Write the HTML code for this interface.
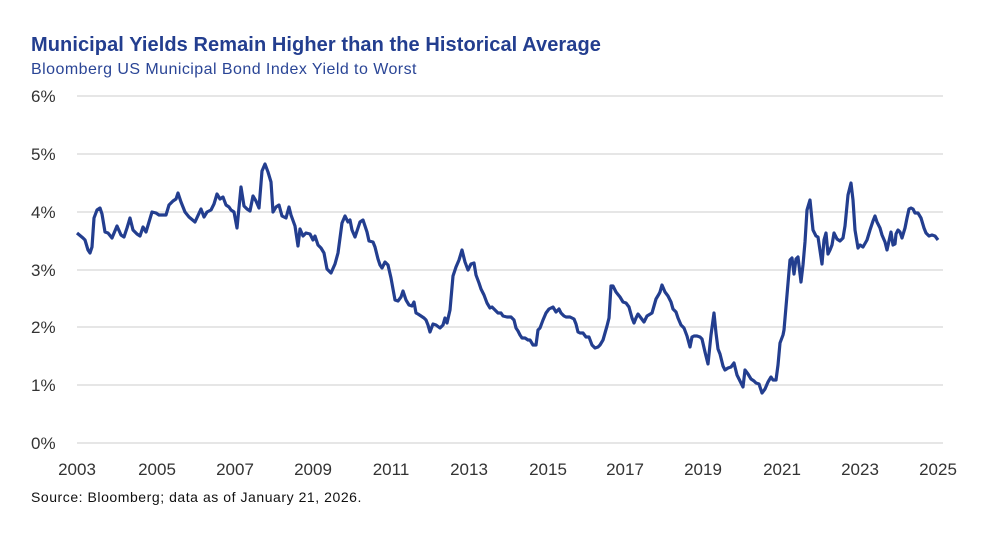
<!DOCTYPE html>
<html><head><style>
body{margin:0;background:#fff;font-family:"Liberation Sans",sans-serif;}
.w{position:relative;width:1002px;height:533px;overflow:hidden;}
.t{position:absolute;left:31px;top:34px;font-size:20px;font-weight:bold;color:#233e8f;letter-spacing:0.08px;}
.s{position:absolute;left:31px;top:61px;font-size:16px;color:#2a4596;letter-spacing:0.45px;}
.src{position:absolute;left:31px;top:489px;font-size:14px;color:#111;letter-spacing:0.55px;}
</style></head><body><div class="w">
<div class="t">Municipal Yields Remain Higher than the Historical Average</div>
<div class="s">Bloomberg US Municipal Bond Index Yield to Worst</div>
<svg width="1002" height="533" style="position:absolute;left:0;top:0">
<g stroke="#e6e6e6" stroke-width="2">
<line x1="77" x2="943" y1="96" y2="96"/><line x1="77" x2="943" y1="154" y2="154"/>
<line x1="77" x2="943" y1="212" y2="212"/><line x1="77" x2="943" y1="270" y2="270"/>
<line x1="77" x2="943" y1="327" y2="327"/><line x1="77" x2="943" y1="385" y2="385"/>
<line x1="77" x2="943" y1="443" y2="443"/></g>
<g font-size="17" fill="#333" font-family="Liberation Sans,sans-serif">
<text x="31" y="102">6%</text><text x="31" y="160">5%</text><text x="31" y="218">4%</text>
<text x="31" y="276">3%</text><text x="31" y="333">2%</text><text x="31" y="391">1%</text>
<text x="31" y="449">0%</text>
<g text-anchor="middle">
<text x="77" y="475">2003</text><text x="157" y="475">2005</text><text x="235" y="475">2007</text>
<text x="313" y="475">2009</text><text x="391" y="475">2011</text><text x="469" y="475">2013</text>
<text x="548" y="475">2015</text><text x="625" y="475">2017</text><text x="703" y="475">2019</text>
<text x="782" y="475">2021</text><text x="860" y="475">2023</text><text x="938" y="475">2025</text></g></g>
<polyline fill="none" stroke="#233e8f" stroke-width="3.2" stroke-linejoin="round" points="77,233 83,238 85,240 88,250 90,253 92,247 94,218 97,210 100,208 102,214 105,232 108,233 112,238 117,226 121,235 124,237 127,228 130,218 133,230 137,234 140,236 143,227 146,232 149,222 152,212 156,213 159,215 163,215 166,215 169,205 173,201 176,199 178,193 181,202 185,212 189,217 195,222 201,209 204,217 207,212 211,210 214,204 217,194 220,199 223,197 226,205 229,207 231,210 234,212 237,228 241,187 244,206 247,209 250,211 253,196 256,201 259,208 262,171 265,164 268,172 271,182 273,212 276,207 279,205 282,216 286,218 289,207 291,215 295,226 298,246 300,229 303,236 306,233 310,234 313,240 315,236 318,245 321,248 324,253 327,269 331,273 335,264 338,253 340,238 342,223 345,216 348,222 350,220 352,230 355,237 360,222 363,220 367,232 369,241 373,242 375,247 378,259 380,265 382,268 385,262 388,265 391,278 395,300 398,301 401,297 403,291 406,300 409,305 412,306 414,302 416,313 418,314 421,316 424,318 426,320 428,325 430,332 433,324 436,325 440,328 443,325 445,318 447,323 450,310 453,276 456,267 459,260 462,250 465,262 468,270 471,264 474,263 476,275 479,283 481,289 484,295 487,303 490,308 492,307 495,310 498,313 501,313 503,316 507,317 511,317 514,320 516,328 518,331 520,335 522,338 525,338 528,340 530,340 533,345 536,345 538,330 540,328 543,320 546,313 549,309 553,307 556,312 559,309 561,313 564,316 566,317 570,317 574,319 576,324 578,332 580,333 583,333 586,337 589,337 592,345 595,348 598,347 600,345 603,340 605,333 607,326 609,318 611,286 613,286 616,292 620,297 623,302 626,303 629,307 632,318 634,323 636,318 638,314 641,318 644,322 647,316 652,313 654,306 656,299 659,294 660,292 662,285 665,292 668,296 671,302 673,309 676,312 678,318 681,325 684,328 687,336 690,347 692,337 694,336 697,336 700,337 702,339 705,352 708,364 711,335 714,313 716,333 718,349 720,354 723,366 725,370 728,368 731,367 734,363 736,371 737,375 740,381 743,387 745,370 748,374 751,379 754,381 756,383 759,384 762,393 765,389 768,382 771,377 773,380 776,380 778,365 780,343 783,335 784,330 787,295 790,260 792,258 794,274 796,259 798,257 801,282 803,265 805,242 807,210 810,200 813,230 816,236 818,237 822,264 824,240 826,233 828,254 830,250 832,245 834,233 837,239 840,241 843,238 845,226 848,195 851,183 853,200 855,230 858,248 860,245 863,247 867,240 870,230 873,221 875,216 877,222 880,228 882,235 885,242 887,250 889,241 891,232 893,245 895,244 896,234 898,230 900,232 902,238 905,228 907,218 909,209 911,208 913,209 915,213 918,213 921,218 924,228 926,233 929,236 932,235 935,236 938,240"/>
</svg>
<div class="src">Source: Bloomberg; data as of January 21, 2026.</div>
</div></body></html>
